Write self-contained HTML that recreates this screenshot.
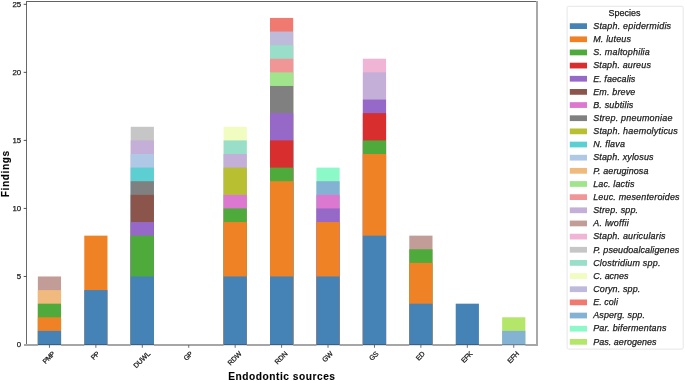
<!DOCTYPE html>
<html><head><meta charset="utf-8"><style>
html,body{margin:0;padding:0;background:#fff;width:685px;height:381px;overflow:hidden;position:relative}
text{font-family:"Liberation Sans",sans-serif;stroke:#1a1a1a;stroke-width:0.25px}
.b{stroke-width:0.12px}
</style></head><body>
<svg width="685" height="381" viewBox="0 0 685 381" style="position:absolute;left:0;top:0;will-change:transform">
<rect x="37.85" y="276.47" width="23.2" height="68.53" fill="#c29c96"/>
<rect x="37.85" y="290.07" width="23.2" height="54.93" fill="#f0b97d"/>
<rect x="37.85" y="303.68" width="23.2" height="41.32" fill="#4eaa3a"/>
<rect x="37.85" y="317.29" width="23.2" height="27.71" fill="#f08226"/>
<rect x="37.85" y="330.89" width="23.2" height="14.11" fill="#4582b6"/>
<rect x="84.28" y="235.64" width="23.2" height="109.36" fill="#f08226"/>
<rect x="84.28" y="290.07" width="23.2" height="54.93" fill="#4582b6"/>
<rect x="130.71" y="126.79" width="23.2" height="218.21" fill="#c6c6c6"/>
<rect x="130.71" y="140.4" width="23.2" height="204.6" fill="#c3afd8"/>
<rect x="130.71" y="154" width="23.2" height="191" fill="#aec8e6"/>
<rect x="130.71" y="167.61" width="23.2" height="177.39" fill="#5ccfd2"/>
<rect x="130.71" y="181.22" width="23.2" height="163.78" fill="#808080"/>
<rect x="130.71" y="194.82" width="23.2" height="150.18" fill="#8c554b"/>
<rect x="130.71" y="222.04" width="23.2" height="122.96" fill="#9669c8"/>
<rect x="130.71" y="235.64" width="23.2" height="109.36" fill="#4eaa3a"/>
<rect x="130.71" y="276.47" width="23.2" height="68.53" fill="#4582b6"/>
<rect x="223.57" y="126.79" width="23.2" height="218.21" fill="#f1fcc0"/>
<rect x="223.57" y="140.4" width="23.2" height="204.6" fill="#98dec8"/>
<rect x="223.57" y="154" width="23.2" height="191" fill="#c3afd8"/>
<rect x="223.57" y="167.61" width="23.2" height="177.39" fill="#b8c032"/>
<rect x="223.57" y="194.82" width="23.2" height="150.18" fill="#dc78d0"/>
<rect x="223.57" y="208.43" width="23.2" height="136.57" fill="#4eaa3a"/>
<rect x="223.57" y="222.04" width="23.2" height="122.96" fill="#f08226"/>
<rect x="223.57" y="276.47" width="23.2" height="68.53" fill="#4582b6"/>
<rect x="270" y="17.93" width="23.2" height="327.07" fill="#f07a70"/>
<rect x="270" y="31.54" width="23.2" height="313.46" fill="#bebadc"/>
<rect x="270" y="45.15" width="23.2" height="299.85" fill="#98dec8"/>
<rect x="270" y="58.75" width="23.2" height="286.25" fill="#f09696"/>
<rect x="270" y="72.36" width="23.2" height="272.64" fill="#a0e58c"/>
<rect x="270" y="85.97" width="23.2" height="259.03" fill="#808080"/>
<rect x="270" y="113.18" width="23.2" height="231.82" fill="#9669c8"/>
<rect x="270" y="140.4" width="23.2" height="204.6" fill="#d82e2e"/>
<rect x="270" y="167.61" width="23.2" height="177.39" fill="#4eaa3a"/>
<rect x="270" y="181.22" width="23.2" height="163.78" fill="#f08226"/>
<rect x="270" y="276.47" width="23.2" height="68.53" fill="#4582b6"/>
<rect x="316.43" y="167.61" width="23.2" height="177.39" fill="#8cfac8"/>
<rect x="316.43" y="181.22" width="23.2" height="163.78" fill="#84b2d2"/>
<rect x="316.43" y="194.82" width="23.2" height="150.18" fill="#dc78d0"/>
<rect x="316.43" y="208.43" width="23.2" height="136.57" fill="#9669c8"/>
<rect x="316.43" y="222.04" width="23.2" height="122.96" fill="#f08226"/>
<rect x="316.43" y="276.47" width="23.2" height="68.53" fill="#4582b6"/>
<rect x="362.86" y="58.75" width="23.2" height="286.25" fill="#f0b4d4"/>
<rect x="362.86" y="72.36" width="23.2" height="272.64" fill="#c3afd8"/>
<rect x="362.86" y="99.57" width="23.2" height="245.43" fill="#9669c8"/>
<rect x="362.86" y="113.18" width="23.2" height="231.82" fill="#d82e2e"/>
<rect x="362.86" y="140.4" width="23.2" height="204.6" fill="#4eaa3a"/>
<rect x="362.86" y="154" width="23.2" height="191" fill="#f08226"/>
<rect x="362.86" y="235.64" width="23.2" height="109.36" fill="#4582b6"/>
<rect x="409.29" y="235.64" width="23.2" height="109.36" fill="#c29c96"/>
<rect x="409.29" y="249.25" width="23.2" height="95.75" fill="#4eaa3a"/>
<rect x="409.29" y="262.86" width="23.2" height="82.14" fill="#f08226"/>
<rect x="409.29" y="303.68" width="23.2" height="41.32" fill="#4582b6"/>
<rect x="455.72" y="303.68" width="23.2" height="41.32" fill="#4582b6"/>
<rect x="502.15" y="317.29" width="23.2" height="27.71" fill="#b4e66a"/>
<rect x="502.15" y="330.89" width="23.2" height="14.11" fill="#84b2d2"/>
<g shape-rendering="crispEdges">
<rect x="26" y="1" width="1" height="345" fill="#686868"/>
<rect x="26" y="1" width="512" height="1" fill="#626262"/>
<rect x="536" y="1" width="2" height="345" fill="#a8a8a8"/>
<rect x="24" y="344" width="514" height="2" fill="#a6a6a6"/>
</g>
<rect x="37.85" y="344" width="23.2" height="1" fill="#346288"/>
<rect x="37.85" y="345" width="23.2" height="1" fill="#e4dcd8"/>
<rect x="84.28" y="344" width="23.2" height="1" fill="#346288"/>
<rect x="84.28" y="345" width="23.2" height="1" fill="#e4dcd8"/>
<rect x="130.71" y="344" width="23.2" height="1" fill="#346288"/>
<rect x="130.71" y="345" width="23.2" height="1" fill="#e4dcd8"/>
<rect x="223.57" y="344" width="23.2" height="1" fill="#346288"/>
<rect x="223.57" y="345" width="23.2" height="1" fill="#e4dcd8"/>
<rect x="270" y="344" width="23.2" height="1" fill="#346288"/>
<rect x="270" y="345" width="23.2" height="1" fill="#e4dcd8"/>
<rect x="316.43" y="344" width="23.2" height="1" fill="#346288"/>
<rect x="316.43" y="345" width="23.2" height="1" fill="#e4dcd8"/>
<rect x="362.86" y="344" width="23.2" height="1" fill="#346288"/>
<rect x="362.86" y="345" width="23.2" height="1" fill="#e4dcd8"/>
<rect x="409.29" y="344" width="23.2" height="1" fill="#346288"/>
<rect x="409.29" y="345" width="23.2" height="1" fill="#e4dcd8"/>
<rect x="455.72" y="344" width="23.2" height="1" fill="#346288"/>
<rect x="455.72" y="345" width="23.2" height="1" fill="#e4dcd8"/>
<rect x="502.15" y="344" width="23.2" height="1" fill="#63869e"/>
<rect x="502.15" y="345" width="23.2" height="1" fill="#e4dcd8"/>
<g stroke="#333333" stroke-width="0.85" fill="none">
<line x1="23.7" y1="276.47" x2="26.5" y2="276.47"/>
<line x1="23.7" y1="208.43" x2="26.5" y2="208.43"/>
<line x1="23.7" y1="140.4" x2="26.5" y2="140.4"/>
<line x1="23.7" y1="72.36" x2="26.5" y2="72.36"/>
<line x1="23.7" y1="4.33" x2="26.5" y2="4.33"/>
<line x1="49.45" y1="345" x2="49.45" y2="347.8" stroke="#555"/>
<line x1="95.88" y1="345" x2="95.88" y2="347.8" stroke="#555"/>
<line x1="142.31" y1="345" x2="142.31" y2="347.8" stroke="#555"/>
<line x1="188.74" y1="345" x2="188.74" y2="347.8" stroke="#555"/>
<line x1="235.17" y1="345" x2="235.17" y2="347.8" stroke="#555"/>
<line x1="281.6" y1="345" x2="281.6" y2="347.8" stroke="#555"/>
<line x1="328.03" y1="345" x2="328.03" y2="347.8" stroke="#555"/>
<line x1="374.46" y1="345" x2="374.46" y2="347.8" stroke="#555"/>
<line x1="420.89" y1="345" x2="420.89" y2="347.8" stroke="#555"/>
<line x1="467.32" y1="345" x2="467.32" y2="347.8" stroke="#555"/>
<line x1="513.75" y1="345" x2="513.75" y2="347.8" stroke="#555"/>
</g>
<g font-family="Liberation Sans" font-size="7.84" fill="#1a1a1a" text-anchor="end">
<text x="21.2" y="347.3" letter-spacing="0">0</text>
<text x="21.2" y="279.27" letter-spacing="0">5</text>
<text x="21.2" y="211.23" letter-spacing="0">10</text>
<text x="21.2" y="143.2" letter-spacing="0">15</text>
<text x="21.2" y="75.16" letter-spacing="0">20</text>
<text x="21.2" y="7.13" letter-spacing="0">25</text>
</g>
<g font-family="Liberation Sans" font-size="6.97" fill="#1a1a1a" text-anchor="end">
<text transform="translate(55.25,354.49) rotate(-45)" letter-spacing="-0.44">PMP</text>
<text transform="translate(99.51,354.63) rotate(-45)" letter-spacing="-0.63">PP</text>
<text transform="translate(150.69,354.22) rotate(-45)" letter-spacing="-0.05">DUWL</text>
<text transform="translate(192.9,354.49) rotate(-45)" letter-spacing="-0.44">GP</text>
<text transform="translate(242.12,354.25) rotate(-45)" letter-spacing="-0.09">RDW</text>
<text transform="translate(287.96,354.26) rotate(-45)" letter-spacing="-0.11">RDN</text>
<text transform="translate(333.33,354.27) rotate(-45)" letter-spacing="-0.12">GW</text>
<text transform="translate(378.77,354.42) rotate(-45)" letter-spacing="-0.33">GS</text>
<text transform="translate(425.3,354.3) rotate(-45)" letter-spacing="-0.17">ED</text>
<text transform="translate(472.67,354.45) rotate(-45)" letter-spacing="-0.38">EFK</text>
<text transform="translate(519.39,354.39) rotate(-45)" letter-spacing="-0.29">EFH</text>
</g>
<text x="281.87" y="379.6" text-anchor="middle" font-family="Liberation Sans" class="b" font-weight="bold" font-size="10.19" letter-spacing="0.53" fill="#000">Endodontic sources</text>
<text transform="translate(8.5,173.72) rotate(-90)" text-anchor="middle" font-family="Liberation Sans" class="b" font-weight="bold" font-size="10.19" letter-spacing="0.57" fill="#000">Findings</text>
<rect x="567.1" y="6.3" width="116.1" height="342.8" rx="1.3" fill="#fff" stroke="#e6e6e6" stroke-width="1"/>
<text x="624.5" y="16" text-anchor="middle" font-family="Liberation Sans" font-size="8.96" letter-spacing="0.01" fill="#1a1a1a">Species</text>
<rect x="569.8" y="23.25" width="17.2" height="5.75" fill="#4582b6"/>
<text x="593.2" y="28.9" font-family="Liberation Sans" font-style="italic" font-size="8.96" letter-spacing="0.22" fill="#1a1a1a">Staph. epidermidis</text>
<rect x="569.8" y="36.41" width="17.2" height="5.75" fill="#f08226"/>
<text x="593.2" y="42.05" font-family="Liberation Sans" font-style="italic" font-size="8.96" letter-spacing="0.18" fill="#1a1a1a">M. luteus</text>
<rect x="569.8" y="49.56" width="17.2" height="5.75" fill="#4eaa3a"/>
<text x="593.2" y="55.21" font-family="Liberation Sans" font-style="italic" font-size="8.96" letter-spacing="0.22" fill="#1a1a1a">S. maltophilia</text>
<rect x="569.8" y="62.71" width="17.2" height="5.75" fill="#d82e2e"/>
<text x="593.2" y="68.36" font-family="Liberation Sans" font-style="italic" font-size="8.96" letter-spacing="0.16" fill="#1a1a1a">Staph. aureus</text>
<rect x="569.8" y="75.87" width="17.2" height="5.75" fill="#9669c8"/>
<text x="593.2" y="81.52" font-family="Liberation Sans" font-style="italic" font-size="8.96" letter-spacing="0.08" fill="#1a1a1a">E. faecalis</text>
<rect x="569.8" y="89.02" width="17.2" height="5.75" fill="#8c554b"/>
<text x="593.2" y="94.67" font-family="Liberation Sans" font-style="italic" font-size="8.96" letter-spacing="0.17" fill="#1a1a1a">Em. breve</text>
<rect x="569.8" y="102.18" width="17.2" height="5.75" fill="#dc78d0"/>
<text x="593.2" y="107.83" font-family="Liberation Sans" font-style="italic" font-size="8.96" letter-spacing="0.18" fill="#1a1a1a">B. subtilis</text>
<rect x="569.8" y="115.33" width="17.2" height="5.75" fill="#808080"/>
<text x="593.2" y="120.98" font-family="Liberation Sans" font-style="italic" font-size="8.96" letter-spacing="0.22" fill="#1a1a1a">Strep. pneumoniae</text>
<rect x="569.8" y="128.49" width="17.2" height="5.75" fill="#b8c032"/>
<text x="593.2" y="134.14" font-family="Liberation Sans" font-style="italic" font-size="8.96" letter-spacing="0.22" fill="#1a1a1a">Staph. haemolyticus</text>
<rect x="569.8" y="141.64" width="17.2" height="5.75" fill="#5ccfd2"/>
<text x="593.2" y="147.29" font-family="Liberation Sans" font-style="italic" font-size="8.96" letter-spacing="0.19" fill="#1a1a1a">N. flava</text>
<rect x="569.8" y="154.8" width="17.2" height="5.75" fill="#aec8e6"/>
<text x="593.2" y="160.45" font-family="Liberation Sans" font-style="italic" font-size="8.96" letter-spacing="0.16" fill="#1a1a1a">Staph. xylosus</text>
<rect x="569.8" y="167.95" width="17.2" height="5.75" fill="#f0b97d"/>
<text x="593.2" y="173.6" font-family="Liberation Sans" font-style="italic" font-size="8.96" letter-spacing="0.09" fill="#1a1a1a">P. aeruginosa</text>
<rect x="569.8" y="181.11" width="17.2" height="5.75" fill="#a0e58c"/>
<text x="593.2" y="186.76" font-family="Liberation Sans" font-style="italic" font-size="8.96" letter-spacing="0.14" fill="#1a1a1a">Lac. lactis</text>
<rect x="569.8" y="194.26" width="17.2" height="5.75" fill="#f09696"/>
<text x="593.2" y="199.91" font-family="Liberation Sans" font-style="italic" font-size="8.96" letter-spacing="0.18" fill="#1a1a1a">Leuc. mesenteroides</text>
<rect x="569.8" y="207.42" width="17.2" height="5.75" fill="#c3afd8"/>
<text x="593.2" y="213.07" font-family="Liberation Sans" font-style="italic" font-size="8.96" letter-spacing="0.16" fill="#1a1a1a">Strep. spp.</text>
<rect x="569.8" y="220.57" width="17.2" height="5.75" fill="#c29c96"/>
<text x="593.2" y="226.22" font-family="Liberation Sans" font-style="italic" font-size="8.96" letter-spacing="0.25" fill="#1a1a1a">A. lwoffii</text>
<rect x="569.8" y="233.73" width="17.2" height="5.75" fill="#f0b4d4"/>
<text x="593.2" y="239.38" font-family="Liberation Sans" font-style="italic" font-size="8.96" letter-spacing="0.19" fill="#1a1a1a">Staph. auricularis</text>
<rect x="569.8" y="246.88" width="17.2" height="5.75" fill="#c6c6c6"/>
<text x="593.2" y="252.53" font-family="Liberation Sans" font-style="italic" font-size="8.96" letter-spacing="0.11" fill="#1a1a1a">P. pseudoalcaligenes</text>
<rect x="569.8" y="260.04" width="17.2" height="5.75" fill="#98dec8"/>
<text x="593.2" y="265.69" font-family="Liberation Sans" font-style="italic" font-size="8.96" letter-spacing="0.2" fill="#1a1a1a">Clostridium spp.</text>
<rect x="569.8" y="273.19" width="17.2" height="5.75" fill="#f1fcc0"/>
<text x="593.2" y="278.84" font-family="Liberation Sans" font-style="italic" font-size="8.96" letter-spacing="0" fill="#1a1a1a">C. acnes</text>
<rect x="569.8" y="286.35" width="17.2" height="5.75" fill="#bebadc"/>
<text x="593.2" y="292" font-family="Liberation Sans" font-style="italic" font-size="8.96" letter-spacing="0.13" fill="#1a1a1a">Coryn. spp.</text>
<rect x="569.8" y="299.5" width="17.2" height="5.75" fill="#f07a70"/>
<text x="593.2" y="305.15" font-family="Liberation Sans" font-style="italic" font-size="8.96" letter-spacing="0.05" fill="#1a1a1a">E. coli</text>
<rect x="569.8" y="312.66" width="17.2" height="5.75" fill="#84b2d2"/>
<text x="593.2" y="318.31" font-family="Liberation Sans" font-style="italic" font-size="8.96" letter-spacing="0.13" fill="#1a1a1a">Asperg. spp.</text>
<rect x="569.8" y="325.81" width="17.2" height="5.75" fill="#8cfac8"/>
<text x="593.2" y="331.46" font-family="Liberation Sans" font-style="italic" font-size="8.96" letter-spacing="0.18" fill="#1a1a1a">Par. bifermentans</text>
<rect x="569.8" y="338.97" width="17.2" height="5.75" fill="#b4e66a"/>
<text x="593.2" y="344.62" font-family="Liberation Sans" font-style="italic" font-size="8.96" letter-spacing="0.05" fill="#1a1a1a">Pas. aerogenes</text>
</svg>
</body></html>
